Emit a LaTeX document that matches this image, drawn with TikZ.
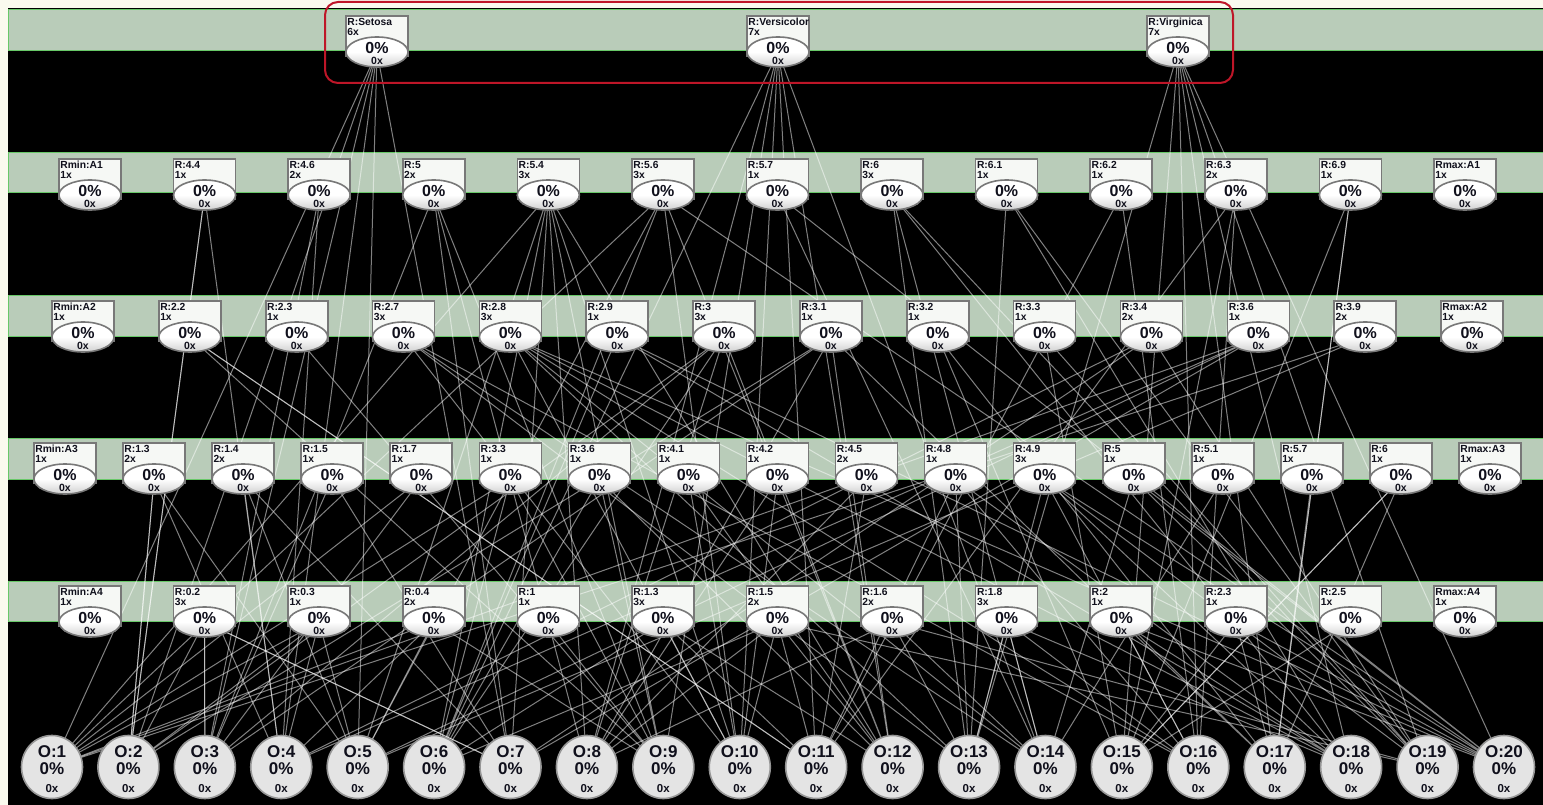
\documentclass[tikz,border=0pt]{standalone}
\usepackage{fontspec}
\setmainfont{Liberation Sans}
\usetikzlibrary{shapes}
\usetikzlibrary{positioning}

\definecolor{cream}{RGB}{250,250,238}
\definecolor{bandfill}{RGB}{185,204,185}
\definecolor{bandline}{RGB}{104,200,104}
\definecolor{boxfill}{RGB}{246,248,245}
\definecolor{boxline}{RGB}{120,120,120}
\definecolor{ovalfill}{RGB}{228,228,228}
\definecolor{ovalline}{RGB}{150,150,150}
\definecolor{framered}{RGB}{190,22,40}
\definecolor{ink}{RGB}{16,16,28}

\pgfdeclarelayer{back}
\pgfdeclarelayer{links}
\pgfsetlayers{back,links,main}

% one range node: box with label and count, oval with percent
\newcommand{\irisnode}[5]{%
  \node[rbox] (#1b) at ({#2},{#3}) {};
  \node[rlab] (#1t) at (#1b.north west) {#4\\#5};
  \node[rell] (#1) at ([yshift=-37pt]#1b.north) {};
  \node[rpct] (#1p) at ([yshift=-1.5pt]#1.center) {0\%};
  \node[rcnt] (#1c) at ([yshift=-12.5pt]#1.center) {0x};
}

\begin{document}
\begin{tikzpicture}[x=1pt,y=-1pt,
  rbox/.style={rectangle,anchor=north,minimum width=62pt,minimum height=40pt,
    inner sep=0pt,fill=boxfill,draw=boxline,line width=1.6pt},
  rlab/.style={anchor=north west,align=left,inner xsep=2pt,inner ysep=3pt,
    text=ink,font=\fontsize{10.3}{10}\selectfont\bfseries},
  rell/.style={ellipse,minimum width=62pt,minimum height=30pt,inner sep=0pt,
    draw=boxline,line width=1.6pt,top color=white,bottom color=black!18,
    middle color=white},
  rpct/.style={anchor=base,inner sep=0pt,text=ink,font=\fontsize{16}{16}\selectfont\bfseries},
  rcnt/.style={anchor=base,inner sep=0pt,text=ink,font=\fontsize{10.5}{10.5}\selectfont\bfseries},
  onode/.style={ellipse,minimum width=61pt,minimum height=63pt,inner sep=0pt,
    fill=ovalfill,draw=ovalline,line width=1.6pt},
  otxt/.style={anchor=base,inner sep=0pt,text=ink,font=\fontsize{17}{17}\selectfont\bfseries},
  ocnt/.style={anchor=base,inner sep=0pt,text=ink,font=\fontsize{11.5}{11.5}\selectfont\bfseries},
  band/.style={fill=bandfill,draw=bandline,line width=1pt},
  edge/.style={draw=white,draw opacity=0.5,line width=1pt}]

  \useasboundingbox (0,0) rectangle (1543,805);
  \begin{pgfonlayer}{back}
    \fill[cream] (0,0) rectangle (1543,805);
    \fill[black] (8,8) rectangle (1543,805);
    % layer bands
    \foreach \t/\b in {10/51,153/193,296/336,438/479,581/621}
      \draw[band] (8,\t) rectangle (1545,\b);
  \end{pgfonlayer}

  % classes
  \irisnode{cls0}{377}{15}{R:Setosa}{6x}
  \irisnode{cls1}{778}{15}{R:Versicolor}{7x}
  \irisnode{cls2}{1178}{15}{R:Virginica}{7x}

  % attribute rows
  \foreach \lab/\cnt [count=\i from 0] in {Rmin:A1/1x,R:4.4/1x,R:4.6/2x,R:5/2x,
      R:5.4/3x,R:5.6/3x,R:5.7/1x,R:6/3x,R:6.1/1x,R:6.2/1x,R:6.3/2x,R:6.9/1x,Rmax:A1/1x}
    {\irisnode{a1n\i}{90+114.58*\i}{158}{\lab}{\cnt}}
  \foreach \lab/\cnt [count=\i from 0] in {Rmin:A2/1x,R:2.2/1x,R:2.3/1x,R:2.7/3x,
      R:2.8/3x,R:2.9/1x,R:3/3x,R:3.1/1x,R:3.2/1x,R:3.3/1x,R:3.4/2x,R:3.6/1x,R:3.9/2x,Rmax:A2/1x}
    {\irisnode{a2n\i}{83+106.85*\i}{300}{\lab}{\cnt}}
  \foreach \lab/\cnt [count=\i from 0] in {Rmin:A3/1x,R:1.3/2x,R:1.4/2x,R:1.5/1x,
      R:1.7/1x,R:3.3/1x,R:3.6/1x,R:4.1/1x,R:4.2/1x,R:4.5/2x,R:4.8/1x,R:4.9/3x,
      R:5/1x,R:5.1/1x,R:5.7/1x,R:6/1x,Rmax:A3/1x}
    {\irisnode{a3n\i}{65+89.06*\i}{442}{\lab}{\cnt}}
  \foreach \lab/\cnt [count=\i from 0] in {Rmin:A4/1x,R:0.2/3x,R:0.3/1x,R:0.4/2x,
      R:1/1x,R:1.3/3x,R:1.5/2x,R:1.6/2x,R:1.8/3x,R:2/1x,R:2.3/1x,R:2.5/1x,Rmax:A4/1x}
    {\irisnode{a4n\i}{90+114.58*\i}{585}{\lab}{\cnt}}

  % outputs
  \foreach \i in {1,...,20} {
    \node[onode] (o\i) at ({52+76.42*(\i-1)},767) {};
    \node[otxt] (o\i n) at ([yshift=10pt]o\i.center) {O:\i};
    \node[otxt] (o\i p) at ([yshift=-7.5pt]o\i.center) {0\%};
    \node[ocnt] (o\i c) at ([yshift=-25pt]o\i.center) {0x};
  }

  \begin{pgfonlayer}{links}
  % neighbour links in each row
  \foreach \r/\n in {a1n/11,a2n/12,a3n/15,a4n/11}
    \foreach \i [evaluate=\i as \j using int(\i+1)] in {0,...,\n}
      \draw[edge] (\r\i.0) -- (\r\j.200) (\r\i.-20) -- (\r\j.180);

  % output -> class, A1, A2, A3, A4 (and the next range on one side)
  \foreach \o/\c/\p/\q/\s/\w in {1/0/4/12/4/3,2/0/1/6/1/1,3/0/2/7/3/1,4/0/2/10/2/2,
      5/0/4/12/1/3,6/1/5/5/6/5,7/0/3/11/2/1,8/1/4/6/9/6,9/1/3/2/5/4,10/1/5/3/8/5,
      11/1/9/1/9/6,12/1/5/6/7/5,13/2/7/4/10/8,14/1/7/3/13/7,15/2/10/9/15/11,
      16/2/10/3/11/8,17/2/11/8/14/10,18/2/8/4/11/8,19/2/7/10/11/7,20/2/6/4/12/9}
  {
    \pgfmathtruncatemacro{\d}{2*mod(\o,2)-1}
    \pgfmathtruncatemacro{\pp}{min(max(\p+\d,1),11)}
    \pgfmathtruncatemacro{\qq}{min(max(\q-\d,1),12)}
    \pgfmathtruncatemacro{\ss}{min(max(\s+\d,1),15)}
    \pgfmathtruncatemacro{\ww}{min(max(\w-\d,1),11)}
    \draw[edge] (o\o.center) -- (cls\c.center) (o\o.center) -- (a1n\p.center)
      (o\o.center) -- (a2n\q.center) (o\o.center) -- (a3n\s.center)
      (o\o.center) -- (a4n\w.center);
    \draw[edge] (o\o.center) -- (a1n\pp.center) (o\o.center) -- (a2n\qq.center)
      (o\o.center) -- (a3n\ss.center) (o\o.center) -- (a4n\ww.center);
  }
  \end{pgfonlayer}

  % selection frame round the classes
  \draw[framered,line width=2pt,rounded corners=13pt] (325,2) rectangle (1233,83);
\end{tikzpicture}
\end{document}
